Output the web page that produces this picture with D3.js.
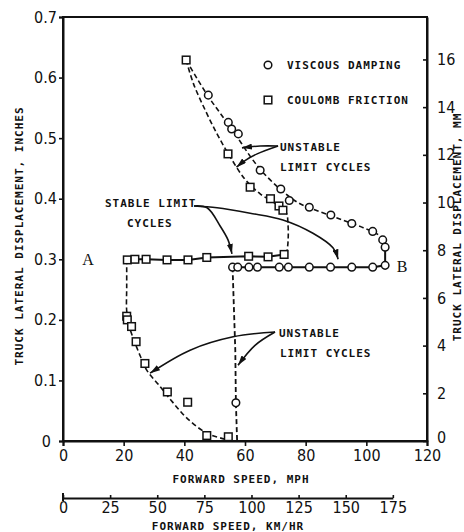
<!DOCTYPE html>
<html>
<head>
<meta charset="utf-8">
<script src="https://cdn.jsdelivr.net/npm/d3@7"></script>
<style>
  html, body { margin: 0; padding: 0; background: #fff; }
  svg { display: block; }
  .lab { font-family: "DejaVu Sans Mono", monospace; font-weight: bold; font-size: 11px; letter-spacing: 1px; fill: #111; }
  .tick text { font-family: "Liberation Sans Narrow", "DejaVu Sans Condensed", "Liberation Sans", sans-serif; font-size: 16px; fill: #111; }
</style>
</head>
<body>
<script>
// Viscous damping (circles): unstable branch, stable branch, low-speed point
const viscousUnstableMph = [47.9, 54.5, 55.6, 57.8, 65.0, 71.8, 74.6, 81.2, 88.3, 95.2, 102.1, 105.4, 106.2];
const viscousUnstableIn  = [0.571, 0.526, 0.515, 0.507, 0.447, 0.416, 0.397, 0.386, 0.373, 0.359, 0.346, 0.332, 0.320];
const viscousStableMph = [55.9, 57.6, 61.3, 64.1, 71.3, 74.3, 81.2, 88.2, 95.2, 102.1, 106.2];
const viscousStableIn  = [0.287, 0.287, 0.287, 0.287, 0.287, 0.287, 0.287, 0.287, 0.287, 0.287, 0.290];
const viscousLowMph = [57.0];
const viscousLowIn  = [0.063];

// Coulomb friction (squares)
const coulombUpperMph = [40.6, 54.4, 61.7, 68.4, 71.2, 72.5];
const coulombUpperIn  = [0.629, 0.474, 0.419, 0.400, 0.388, 0.381];
const coulombStableMph = [21.2, 23.7, 27.4, 34.3, 41.2, 47.4, 61.2, 67.6, 72.9];
const coulombStableIn  = [0.299, 0.300, 0.300, 0.299, 0.299, 0.303, 0.305, 0.304, 0.308];
const coulombLowerMph = [21.0, 21.2, 22.6, 24.1, 27.0, 34.4, 41.1, 47.4, 54.5];
const coulombLowerIn  = [0.206, 0.200, 0.189, 0.164, 0.128, 0.081, 0.064, 0.009, 0.007];

// Faired curves through the points
const viscousCurveMph = [40.6, 44, 48, 52, 57, 62, 66, 72, 78, 85, 92, 99, 104, 106.2];
const viscousCurveIn  = [0.629, 0.600, 0.568, 0.540, 0.505, 0.468, 0.443, 0.414, 0.392, 0.378, 0.365, 0.352, 0.340, 0.322];
const viscousDropMph = [55.9, 56.8, 57.0, 57.4];
const viscousDropIn  = [0.287, 0.150, 0.063, 0.000];
const coulombUpperCurveMph = [40.6, 43, 47, 51, 55, 60, 65, 70, 73.5, 74.2, 74.2, 73.8];
const coulombUpperCurveIn  = [0.629, 0.590, 0.545, 0.505, 0.470, 0.432, 0.408, 0.392, 0.378, 0.355, 0.330, 0.310];
const coulombLowerCurveMph = [21.0, 21.0, 21.0, 21.8, 23.5, 25.5, 27.6, 32, 36, 41, 47.4, 53.4];
const coulombLowerCurveIn  = [0.300, 0.255, 0.215, 0.190, 0.165, 0.140, 0.117, 0.090, 0.065, 0.037, 0.013, 0.003];

// Axis ticks
const mphTicks = [0, 20, 40, 60, 80, 100, 120];
const inchTicks = [0, 0.1, 0.2, 0.3, 0.4, 0.5, 0.6, 0.7];
const mmTicks = [0, 2, 4, 6, 8, 10, 12, 14, 16];
const kmhTicks = [0, 25, 50, 75, 100, 125, 150, 175];

// Annotation leaders (mph, inches)
const arrowUpper1 = [[70.9, 0.487], [65, 0.487], [59.0, 0.484]];
const arrowUpper2 = [[70.9, 0.487], [64, 0.474], [60, 0.463], [57.2, 0.452]];
const arrowStable1 = [[43.2, 0.388], [47.5, 0.385], [51.8, 0.355], [54.4, 0.332], [55.7, 0.309]];
const arrowStable2 = [[43.2, 0.388], [50.8, 0.385], [61.7, 0.376], [72.5, 0.365], [82.4, 0.343], [89.0, 0.319], [90.7, 0.300]];
const arrowLower1 = [[69.9, 0.180], [56.1, 0.172], [41.9, 0.150], [28.7, 0.112]];
const arrowLower2 = [[69.9, 0.180], [63.3, 0.158], [57.7, 0.125]];

const W = 464, H = 532;
const svg = d3.select("body").append("svg").attr("width", W).attr("height", H);

const x = d3.scaleLinear().domain([0, 120]).range([63, 427]);
const y = d3.scaleLinear().domain([0, 0.7]).range([441, 17]);
const yMm = d3.scaleLinear().domain([0, 0.7 * 25.4]).range([441, 17]);
const xKm = d3.scaleLinear().domain([0, 175]).range([x(0), x(175 / 1.609344)]);

const zip = (a, b) => a.map((v, i) => [v, b[i]]);
const line = d3.line().x(d => x(d[0])).y(d => y(d[1])).curve(d3.curveCatmullRom.alpha(0.5));
const straight = d3.line().x(d => x(d[0])).y(d => y(d[1]));

// arrowhead
svg.append("defs").append("marker")
  .attr("id", "arr").attr("viewBox", "0 0 10 6").attr("refX", 10).attr("refY", 3)
  .attr("markerWidth", 10).attr("markerHeight", 6).attr("markerUnits", "userSpaceOnUse")
  .attr("orient", "auto")
  .append("path").attr("d", "M0,0 L10,3 L0,6 z").attr("fill", "#111");

// frame
svg.append("rect").attr("x", x(0)).attr("y", y(0.7)).attr("width", x(120) - x(0)).attr("height", y(0) - y(0.7))
  .attr("fill", "none").attr("stroke", "#111").attr("stroke-width", 2);

// axes
const styleAxis = g => {
  g.selectAll("path.domain").attr("stroke", "#111").attr("stroke-width", 2);
  g.selectAll(".tick line").attr("stroke", "#111").attr("stroke-width", 1.6);
};
const gl = svg.append("g").attr("transform", `translate(${x(0)},0)`)
  .call(d3.axisLeft(y).tickValues(inchTicks).tickFormat(d => d === 0 ? "0" : d3.format(".1f")(d)).tickSize(4).tickPadding(2))
  .call(styleAxis);
gl.selectAll(".tick text").filter(d => d === 0).attr("x", -12);

const gr = svg.append("g").attr("transform", `translate(${x(120)},0)`)
  .call(d3.axisRight(yMm).tickValues(mmTicks).tickSizeInner(-4).tickSizeOuter(0).tickPadding(10))
  .call(styleAxis);
gr.selectAll(".tick text").filter(d => d === 0).attr("dy", "0.1em");

svg.append("g").attr("transform", `translate(0,${y(0)})`)
  .call(d3.axisBottom(x).tickValues(mphTicks).tickSize(5).tickPadding(4))
  .call(styleAxis);

const gk = svg.append("g").attr("transform", "translate(0,498)")
  .call(d3.axisBottom(xKm).tickValues(kmhTicks).tickSizeInner(-3).tickSizeOuter(0).tickPadding(4))
  .call(styleAxis);
gk.append("line").attr("x1", xKm(0)).attr("x2", xKm(0)).attr("y1", -5).attr("y2", 3)
  .attr("stroke", "#111").attr("stroke-width", 2);

// curves
const dashed = (pts, sw) => svg.append("path").attr("d", line(pts)).attr("fill", "none")
  .attr("stroke", "#111").attr("stroke-width", sw || 1.6).attr("stroke-dasharray", "5,3");
dashed(zip(viscousCurveMph, viscousCurveIn));
dashed(zip(coulombUpperCurveMph, coulombUpperCurveIn));
dashed(zip(coulombLowerCurveMph, coulombLowerCurveIn));
svg.append("path").attr("d", straight(zip(viscousDropMph, viscousDropIn))).attr("fill", "none")
  .attr("stroke", "#111").attr("stroke-width", 1.8).attr("stroke-dasharray", "5,3");

// stable limit cycles (solid)
svg.append("path")
  .attr("d", straight([[21.0, 0.300]].concat(zip(coulombStableMph, coulombStableIn))))
  .attr("fill", "none").attr("stroke", "#111").attr("stroke-width", 2);
svg.append("path")
  .attr("d", straight(zip(viscousStableMph, viscousStableIn).concat([[106.2, 0.320]])))
  .attr("fill", "none").attr("stroke", "#111").attr("stroke-width", 2);

// leaders with arrowheads
[arrowUpper1, arrowUpper2, arrowStable1, arrowStable2, arrowLower1, arrowLower2].forEach(pts => {
  svg.append("path").attr("d", line(pts)).attr("fill", "none").attr("stroke", "#111")
    .attr("stroke-width", 1.6).attr("marker-end", "url(#arr)");
});

// markers
const circles = (xs, ys) => svg.append("g").selectAll("circle").data(zip(xs, ys)).join("circle")
  .attr("cx", d => x(d[0])).attr("cy", d => y(d[1])).attr("r", 3.8)
  .attr("fill", "#fff").attr("stroke", "#111").attr("stroke-width", 1.5);
const squares = (xs, ys) => svg.append("g").selectAll("rect").data(zip(xs, ys)).join("rect")
  .attr("x", d => x(d[0]) - 3.8).attr("y", d => y(d[1]) - 3.8).attr("width", 7.6).attr("height", 7.6)
  .attr("fill", "#fff").attr("stroke", "#111").attr("stroke-width", 1.5);

squares(coulombUpperMph, coulombUpperIn);
squares(coulombStableMph, coulombStableIn);
squares(coulombLowerMph, coulombLowerIn);
circles(viscousUnstableMph, viscousUnstableIn);
circles(viscousStableMph, viscousStableIn);
circles(viscousLowMph, viscousLowIn);

// legend
svg.append("circle").attr("cx", 268).attr("cy", 65).attr("r", 3.8).attr("fill", "#fff").attr("stroke", "#111").attr("stroke-width", 1.5);
svg.append("rect").attr("x", 264.2).attr("y", 96.2).attr("width", 7.6).attr("height", 7.6).attr("fill", "#fff").attr("stroke", "#111").attr("stroke-width", 1.5);
const label = (tx, ty, s, anchor) => svg.append("text").attr("class", "lab").attr("x", tx).attr("y", ty)
  .attr("text-anchor", anchor || "start").text(s);
label(287, 69, "VISCOUS DAMPING");
label(287, 104, "COULOMB FRICTION");

// annotations
label(280, 151, "UNSTABLE");
label(280, 171, "LIMIT CYCLES");
label(105, 207, "STABLE LIMIT");
label(127, 227, "CYCLES");
label(279, 337, "UNSTABLE");
label(280, 357, "LIMIT CYCLES");

svg.append("text").attr("x", 88).attr("y", 265).attr("text-anchor", "middle")
  .style("font-family", "'Liberation Serif', serif").style("font-size", "16px").attr("fill", "#111").text("A");
svg.append("text").attr("x", 402).attr("y", 272).attr("text-anchor", "middle")
  .style("font-family", "'Liberation Serif', serif").style("font-size", "16px").attr("fill", "#111").text("B");

// axis titles
label(241, 483, "FORWARD SPEED, MPH", "middle");
label(228, 530, "FORWARD SPEED, KM/HR", "middle");
label(0, 0, "TRUCK LATERAL DISPLACEMENT, INCHES", "middle").attr("transform", "translate(23,236) rotate(-90)");
label(0, 0, "TRUCK LATERAL DISPLACEMENT, MM", "middle").attr("transform", "translate(461,227) rotate(-90)");
</script>
</body>
</html>
